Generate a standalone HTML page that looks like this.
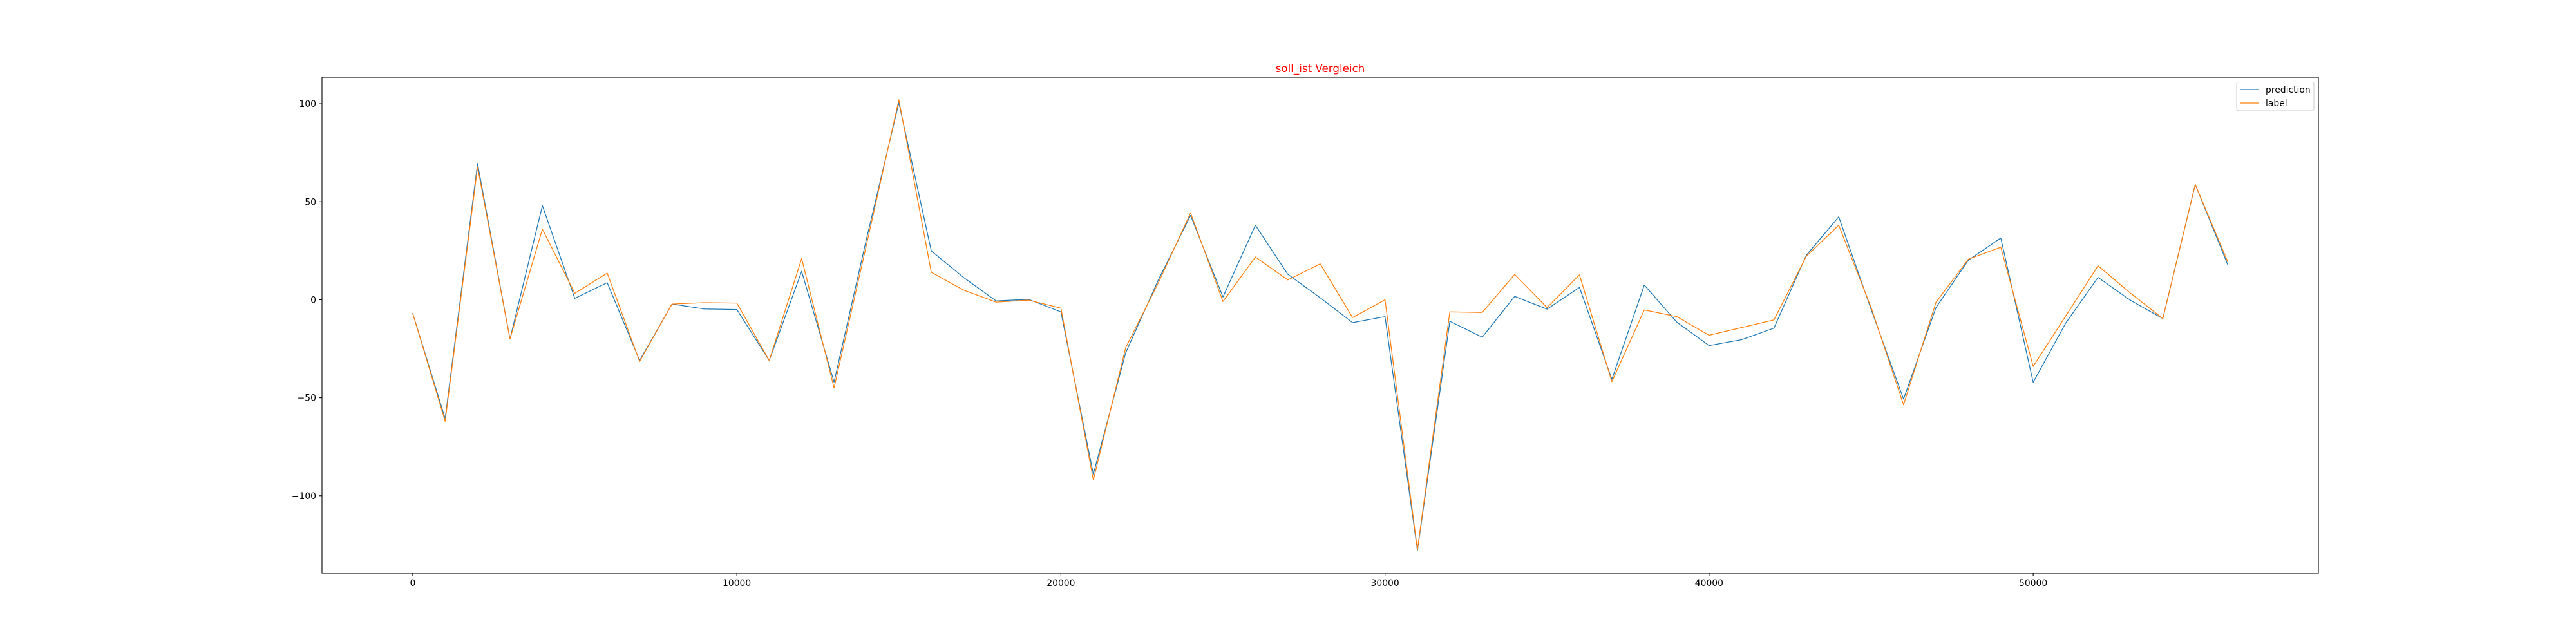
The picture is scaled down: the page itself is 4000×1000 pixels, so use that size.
<!DOCTYPE html>
<html><head><meta charset="utf-8"><style>
html,body{margin:0;padding:0;background:#fff;}
svg{display:block;font-family:"DejaVu Sans","Liberation Sans",sans-serif;}
</style></head><body>
<svg id="chart" width="4000" height="1000" viewBox="0 0 4000 1000" xmlns="http://www.w3.org/2000/svg">
<rect x="0" y="0" width="4000" height="1000" fill="#fff"/>
<text x="2050" y="112" font-size="16.7" fill="#ff0000" text-anchor="middle">soll_ist Vergleich</text>
<g id="plot"></g>
</svg>
<script>
const xValues = [0,1000,2000,3000,4000,5000,6000,7000,8000,9000,10000,11000,12000,13000,14000,15000,16000,17000,18000,19000,20000,21000,22000,23000,24000,25000,26000,27000,28000,29000,30000,31000,32000,33000,34000,35000,36000,37000,38000,39000,40000,41000,42000,43000,44000,45000,46000,47000,48000,49000,50000,51000,52000,53000,54000,55000,56000];
const predictionValues = [-7,-60.6,69.5,-20,48,0.7,8.7,-31,-2.2,-4.7,-5,-31,14.5,-42,31,100.5,24.9,11.3,-0.6,0.2,-6.2,-89,-27,9.9,43,1.4,38,13,1,-11.7,-8.6,-128,-11,-19.1,1.7,-4.8,6.3,-40.6,7.5,-11.4,-23.4,-20.4,-14.5,22.7,42.3,-5,-50.7,-4,20.2,31.5,-42.1,-12,11.4,-0.3,-9.6,58.8,18];
const labelValues = [-7,-62,67.7,-20,36,3.3,13.6,-31.5,-2.2,-1.5,-1.7,-31,21,-45,28,102,14,4.9,-1.2,-0.2,-4.3,-92,-24.4,8.4,44.3,-0.9,21.8,10.1,18.3,-9.1,0,-127.5,-6.2,-6.5,12.9,-4,12.7,-41.8,-5.2,-8.6,-18.1,-14.2,-10.3,22.2,38,-4,-53.6,-1.3,20.7,26.8,-34,-8.4,17.3,3.4,-9.6,58.8,19.5];
const xTicks = [0,10000,20000,30000,40000,50000];
const xTickLabels = ["0","10000","20000","30000","40000","50000"];
const yTicks = [-100,-50,0,50,100];
const yTickLabels = ["\u2212100","\u221250","0","50","100"];

const NS = "http://www.w3.org/2000/svg";
const L = 500, R = 3600, T = 120, B = 890;
const allY = predictionValues.concat(labelValues);
const xmin0 = Math.min(...xValues), xmax0 = Math.max(...xValues);
const ymin0 = Math.min(...allY), ymax0 = Math.max(...allY);
const xm = (xmax0 - xmin0) * 0.05, ym = (ymax0 - ymin0) * 0.05;
const xmin = xmin0 - xm, xmax = xmax0 + xm, ymin = ymin0 - ym, ymax = ymax0 + ym;
function sx(v){ return L + (v - xmin) / (xmax - xmin) * (R - L); }
function sy(v){ return B - (v - ymin) / (ymax - ymin) * (B - T); }
const plot = document.getElementById('plot');
function mk(tag, attrs){ const e = document.createElementNS(NS, tag); for (const k in attrs) e.setAttribute(k, attrs[k]); plot.appendChild(e); return e; }

function series(vals, color, name){
  const d = xValues.map((x,i)=> (i?'L':'M') + sx(x).toFixed(2) + ' ' + sy(vals[i]).toFixed(2)).join(' ');
  const p = mk('path', {d:d, fill:'none', stroke:color, 'stroke-width':1.3, 'stroke-linejoin':'round', 'stroke-linecap':'square'});
  
  
}
series(predictionValues, '#1f77b4', 'prediction-line');
series(labelValues, '#ff7f0e', 'label-line');

const frame = mk('rect', {x:L, y:T, width:R-L, height:B-T, fill:'none', stroke:'#000', 'stroke-width':1.1});



xTicks.forEach((t,i)=>{
  const x = sx(t);
  const tk = mk('line', {x1:x, x2:x, y1:B, y2:B+4.9, stroke:'#000', 'stroke-width':1.1});
  
  
  const tx = mk('text', {x:x, y:B+20, 'font-size':13.9, 'text-anchor':'middle', fill:'#000'});
  tx.textContent = xTickLabels[i];
  
  
});
yTicks.forEach((t,i)=>{
  const y = sy(t);
  const tk = mk('line', {x1:L-4.9, x2:L, y1:y, y2:y, stroke:'#000', 'stroke-width':1.1});
  
  
  const tx = mk('text', {x:L-9, y:y+5, 'font-size':13.9, 'text-anchor':'end', fill:'#000'});
  tx.textContent = yTickLabels[i];
  
  
});

const lg = mk('rect', {x:3473, y:127.5, width:120, height:44.5, rx:3, fill:'#fff', 'fill-opacity':0.8, stroke:'#ccc', 'stroke-width':1});


[['prediction','#1f77b4',139],['label','#ff7f0e',160]].forEach(([n,c,y])=>{
  const ln = mk('line', {x1:3479, x2:3507, y1:y, y2:y, stroke:c, 'stroke-width':1.3});
  
  
  const tx = mk('text', {x:3518, y:y+5, 'font-size':13.9, fill:'#000'});
  tx.textContent = n;
  
  
});
</script>
</body></html>
